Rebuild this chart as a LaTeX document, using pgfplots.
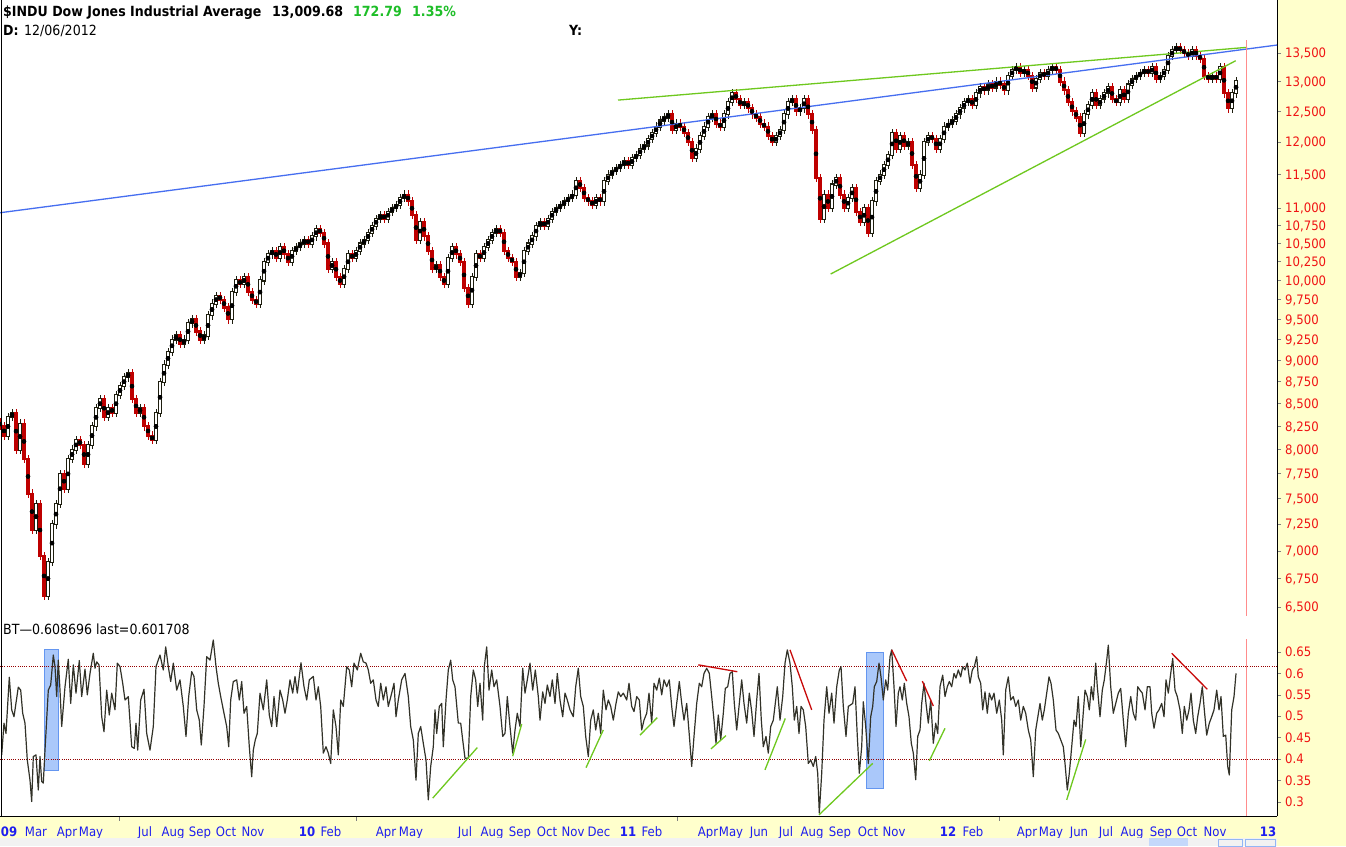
\documentclass[border=0pt]{standalone}
\usepackage{pgfplots}
\pgfplotsset{compat=1.18}
\usepackage{pgfplotstable}
\usepackage{fontspec}
\setmainfont{DejaVu Sans}[FakeStretch=0.9]
\definecolor{bgy}{RGB}{255,255,204}
\definecolor{cred}{RGB}{190,0,0}
\definecolor{cblk}{RGB}{30,30,15}
\definecolor{tred}{RGB}{240,20,20}
\definecolor{tgreen}{RGB}{30,190,40}
\definecolor{lblue}{RGB}{70,110,240}
\definecolor{lgreen}{RGB}{110,200,30}
\definecolor{oscc}{RGB}{50,50,40}
\definecolor{dred}{RGB}{150,0,0}
\definecolor{rfill}{RGB}{170,200,250}
\definecolor{rdraw}{RGB}{100,150,240}
\definecolor{pinkl}{RGB}{255,140,140}
\definecolor{xblue}{RGB}{30,30,240}
\definecolor{tline}{RGB}{200,10,10}
\newcommand{\tk}{\fontsize{13}{15}\selectfont}
\newcommand{\tsz}{\fontsize{14}{16}\selectfont}

\pgfplotstableread{
x o c
0 8300 8250
4 8250 8150
8 8150 8350
12 8350 8400
16 8400 8000
20 8000 8280
24 8280 7900
28 7900 7550
32 7550 7200
36 7200 7450
40 7450 6950
44 6950 6600
48 6600 6900
52 6900 7250
56 7250 7450
60 7450 7750
64 7750 7600
68 7600 7900
72 7900 8000
76 8000 8100
80 8100 8050
84 8050 7850
88 7850 8050
92 8050 8250
96 8250 8450
100 8450 8550
104 8550 8350
108 8350 8450
112 8450 8400
116 8400 8600
120 8600 8700
124 8700 8800
128 8800 8850
132 8850 8550
136 8550 8400
140 8400 8450
144 8450 8250
148 8250 8150
152 8150 8100
156 8100 8400
160 8400 8750
164 8750 8950
168 8950 9100
172 9100 9250
176 9250 9300
180 9300 9200
184 9200 9250
188 9250 9450
192 9450 9500
196 9500 9350
200 9350 9250
204 9250 9300
208 9300 9550
212 9550 9700
216 9700 9800
220 9800 9750
224 9750 9650
228 9650 9500
232 9500 9850
236 9850 10000
240 10000 9950
244 9950 10050
248 10050 9850
252 9850 9750
256 9750 9700
260 9700 10000
264 10000 10250
268 10250 10350
272 10350 10400
276 10400 10300
280 10300 10450
284 10450 10350
288 10350 10250
292 10250 10400
296 10400 10450
300 10450 10500
304 10500 10550
308 10550 10500
312 10500 10600
316 10600 10700
320 10700 10650
324 10650 10500
328 10500 10150
332 10150 10250
336 10250 10050
340 10050 9950
344 9950 10150
348 10150 10350
352 10350 10300
356 10300 10400
360 10400 10500
364 10500 10550
368 10550 10650
372 10650 10750
376 10750 10850
380 10850 10900
384 10900 10850
388 10850 10950
392 10950 11000
396 11000 11050
400 11050 11150
404 11150 11200
408 11200 11100
412 11100 10900
416 10900 10550
420 10550 10800
424 10800 10600
428 10600 10400
432 10400 10150
436 10150 10200
440 10200 10050
444 10050 9950
448 9950 10300
452 10300 10450
456 10450 10350
460 10350 10250
464 10250 9900
468 9900 9700
472 9700 10050
476 10050 10350
480 10350 10300
484 10300 10450
488 10450 10550
492 10550 10650
496 10650 10700
500 10700 10650
504 10650 10400
508 10400 10300
512 10300 10250
516 10250 10050
520 10050 10100
524 10100 10400
528 10400 10500
532 10500 10600
536 10600 10750
540 10750 10800
544 10800 10750
548 10750 10850
552 10850 10950
556 10950 11000
560 11000 11050
564 11050 11100
568 11100 11150
572 11150 11200
576 11200 11400
580 11400 11300
584 11300 11150
588 11150 11100
592 11100 11050
596 11050 11150
600 11150 11100
604 11100 11400
608 11400 11500
612 11500 11550
616 11550 11600
620 11600 11650
624 11650 11700
628 11700 11650
632 11650 11750
636 11750 11800
640 11800 11900
644 11900 11950
648 11950 12050
652 12050 12150
656 12150 12250
660 12250 12350
664 12350 12400
668 12400 12450
672 12450 12200
676 12200 12300
680 12300 12250
684 12250 12150
688 12150 12000
692 12000 11750
696 11750 11900
700 11900 12100
704 12100 12250
708 12250 12400
712 12400 12450
716 12450 12300
720 12300 12250
724 12250 12450
728 12450 12650
732 12650 12800
736 12800 12700
740 12700 12600
744 12600 12650
748 12650 12550
752 12550 12450
756 12450 12400
760 12400 12300
764 12300 12250
768 12250 12100
772 12100 12000
776 12000 12100
780 12100 12200
784 12200 12450
788 12450 12650
792 12650 12700
796 12700 12500
800 12500 12550
804 12550 12700
808 12700 12450
812 12450 12200
816 12200 11450
820 11450 10850
824 10850 11200
828 11200 11000
832 11000 11350
836 11350 11450
840 11450 11200
844 11200 11000
848 11000 11150
852 11150 11300
856 11300 10950
860 10950 10800
864 10800 11000
868 11000 10650
872 10650 11100
876 11100 11400
880 11400 11500
884 11500 11650
888 11650 11800
892 11800 12150
896 12150 11900
900 11900 12100
904 12100 11950
908 11950 12000
912 12000 11650
916 11650 11300
920 11300 11500
924 11500 12000
928 12000 12100
932 12100 12050
936 12050 11900
940 11900 12050
944 12050 12250
948 12250 12300
952 12300 12350
956 12350 12450
960 12450 12550
964 12550 12650
968 12650 12700
972 12700 12600
976 12600 12800
980 12800 12900
984 12900 12850
988 12850 12950
992 12950 12900
996 12900 13000
1000 13000 12950
1004 12950 12850
1008 12850 13100
1012 13100 13200
1016 13200 13250
1020 13250 13150
1024 13150 13200
1028 13200 13100
1032 13100 12900
1036 12900 13050
1040 13050 13150
1044 13150 13100
1048 13100 13200
1052 13200 13250
1056 13250 13200
1060 13200 13000
1064 13000 12850
1068 12850 12650
1072 12650 12500
1076 12500 12400
1080 12400 12150
1084 12150 12450
1088 12450 12600
1092 12600 12800
1096 12800 12600
1100 12600 12700
1104 12700 12800
1108 12800 12900
1112 12900 12700
1116 12700 12650
1120 12650 12850
1124 12850 12700
1128 12700 12950
1132 12950 13050
1136 13050 13100
1140 13100 13150
1144 13150 13200
1148 13200 13150
1152 13150 13250
1156 13250 13050
1160 13050 13100
1164 13100 13200
1168 13200 13450
1172 13450 13550
1176 13550 13600
1180 13600 13550
1184 13550 13500
1188 13500 13450
1192 13450 13550
1196 13550 13450
1200 13450 13400
1204 13400 13100
1208 13100 13050
1212 13050 13100
1216 13100 13050
1220 13050 13250
1224 13250 12800
1228 12800 12550
1232 12550 12800
1236 12800 13010
}\price

\pgfplotstableread{
x v
1.7 0.410
4 0.484
6 0.460
9.3 0.591
11.7 0.515
14 0.499
18.3 0.568
20.7 0.561
22.7 0.507
25 0.484
27.3 0.398
30 0.351
31.7 0.301
33.3 0.406
36 0.410
38.3 0.328
40 0.406
41.7 0.348
43.3 0.344
45 0.421
48.3 0.561
50.7 0.573
53.3 0.643
55 0.616
56.7 0.546
58.3 0.631
60 0.561
61.7 0.476
65 0.569
68.3 0.633
70.7 0.530
73.3 0.620
76 0.554
79.3 0.630
81.7 0.546
85 0.610
87.3 0.550
90 0.600
93.3 0.647
95 0.612
96.7 0.627
99 0.620
101.7 0.499
104 0.464
106.7 0.561
109.3 0.503
111.7 0.554
115 0.515
117.3 0.624
120 0.616
122.7 0.577
125 0.538
128.3 0.546
131.7 0.429
134.3 0.425
136 0.484
137.7 0.421
140.7 0.538
144 0.563
146.7 0.460
150 0.421
153.3 0.476
156 0.616
160 0.643
163.3 0.608
165.7 0.662
168.3 0.616
170.7 0.581
173.3 0.624
176.7 0.561
180 0.585
183.3 0.523
186 0.453
188.7 0.546
191.7 0.604
194 0.593
196.7 0.515
199.3 0.491
201.3 0.433
204 0.523
206.7 0.639
210 0.631
213.3 0.678
216 0.616
218.3 0.577
220.7 0.546
224 0.507
226.7 0.476
228.7 0.429
230.7 0.538
233.3 0.581
236.7 0.585
239.3 0.538
241.7 0.581
244 0.507
246.7 0.523
249.3 0.429
251.7 0.359
253.3 0.421
255.3 0.445
257.3 0.460
260 0.554
263.3 0.515
266.7 0.585
269.3 0.503
271.7 0.476
274 0.546
276.7 0.476
280 0.561
282.7 0.538
285 0.507
287.3 0.538
290 0.585
292.7 0.554
295 0.593
297.3 0.554
301 0.625
304 0.569
306.7 0.538
309.3 0.585
313.3 0.593
316 0.538
318.3 0.569
320.7 0.523
323.3 0.414
326 0.429
328.3 0.414
330.7 0.390
333.3 0.515
336 0.476
338.3 0.410
340.7 0.538
343.3 0.523
346.7 0.616
349.3 0.608
351.7 0.569
354 0.624
357.3 0.608
360.7 0.647
363.3 0.627
366 0.624
368.3 0.608
370.7 0.577
373.3 0.585
376 0.538
378.3 0.523
380.7 0.577
383.3 0.538
386 0.569
388.3 0.523
391.7 0.554
394 0.577
396 0.499
398.3 0.538
401.7 0.585
405 0.600
408.3 0.546
410.7 0.476
413.3 0.445
416 0.351
418.3 0.460
420.7 0.476
423.3 0.437
426 0.398
428.3 0.305
430.7 0.383
433.3 0.429
435 0.515
436.7 0.460
439.3 0.523
441.7 0.530
443.3 0.429
446 0.538
448.3 0.608
450.7 0.631
452.7 0.585
455 0.569
458.3 0.484
460.7 0.484
462.7 0.445
465 0.402
468.3 0.402
470.7 0.546
473.3 0.608
475.7 0.585
477.7 0.523
480 0.577
482.7 0.491
484.3 0.616
486.7 0.662
489 0.561
491.7 0.608
494 0.569
496.7 0.585
500 0.523
502.7 0.453
505 0.460
507.3 0.546
510 0.476
512.7 0.414
515 0.468
517.3 0.507
520 0.476
522.7 0.612
525 0.554
527.3 0.585
530 0.624
532.7 0.561
535.3 0.608
538.3 0.546
540 0.491
542.7 0.557
545 0.530
547.3 0.573
550 0.546
552.3 0.585
555 0.530
557.3 0.600
560 0.538
562.7 0.499
565 0.554
567.3 0.538
570 0.515
573.3 0.499
575.7 0.569
578.3 0.612
580.7 0.546
583.3 0.523
585.7 0.453
588.3 0.406
590.7 0.491
593.3 0.515
595.7 0.468
598.3 0.507
600.7 0.460
603.3 0.561
606 0.515
608.3 0.538
610.7 0.523
613.3 0.491
616 0.530
618.3 0.557
620.7 0.546
623.3 0.554
626.7 0.538
629 0.577
631.7 0.523
634 0.511
636.7 0.546
639.3 0.538
641.7 0.468
644 0.491
646.7 0.507
649 0.554
651.7 0.484
654 0.577
656.7 0.561
659.3 0.589
661.7 0.550
664 0.585
666.7 0.569
669.3 0.585
671.7 0.523
674 0.476
676.7 0.530
679.3 0.581
681.7 0.530
684 0.491
686.7 0.530
689.3 0.456
691.7 0.383
694 0.453
696.7 0.530
699.3 0.577
701.7 0.569
704 0.600
706.7 0.612
709.3 0.600
711.7 0.546
714 0.491
716 0.437
718.3 0.503
720.7 0.445
723.3 0.507
725.3 0.565
727.7 0.569
730 0.600
732.3 0.604
734.3 0.530
736.7 0.468
739.3 0.530
741.7 0.585
744 0.530
746.7 0.484
749.3 0.554
751.7 0.511
754 0.453
756.7 0.538
759 0.600
761.3 0.491
763.3 0.429
766 0.453
768.3 0.414
770.7 0.476
773.3 0.491
775.7 0.538
777.3 0.569
780 0.491
782.7 0.546
785 0.624
787.3 0.655
790 0.624
792.3 0.569
794.3 0.491
796.7 0.523
799 0.460
801 0.523
803.3 0.515
805.7 0.476
808.3 0.390
810.7 0.398
813.3 0.383
815.7 0.406
817.7 0.367
819.3 0.274
821.7 0.367
824 0.491
826.7 0.569
829 0.507
831.7 0.554
834 0.484
836.7 0.569
839.3 0.608
841 0.616
843.3 0.523
846 0.453
848.3 0.523
852.7 0.530
855 0.569
857.3 0.453
859.3 0.367
861.7 0.429
863.3 0.534
865.7 0.476
868.3 0.390
870.7 0.499
872.7 0.523
874.3 0.569
876.7 0.581
879 0.624
881 0.592
883.3 0.538
885.7 0.585
887.7 0.561
890 0.639
891.7 0.655
894 0.569
896 0.476
898.3 0.554
900 0.569
902.3 0.538
904.3 0.577
906.7 0.530
909 0.499
911.3 0.437
913.3 0.414
915.7 0.352
917.7 0.453
920 0.468
921.7 0.530
924 0.577
926 0.530
928.3 0.484
930.7 0.538
933.3 0.437
935.7 0.484
937.7 0.460
940 0.569
942.7 0.596
945 0.546
947.3 0.569
949.3 0.581
951.7 0.569
954 0.600
956 0.589
958.3 0.608
960.7 0.592
962.7 0.616
965 0.608
967.3 0.624
970 0.577
972.3 0.608
974.3 0.616
976.7 0.639
978.3 0.592
980.7 0.577
982.7 0.515
985 0.557
987.3 0.507
989.3 0.554
991.7 0.538
994 0.554
996.7 0.507
999.3 0.538
1001.7 0.491
1003.3 0.410
1005.7 0.561
1008.3 0.592
1010.7 0.538
1013.3 0.546
1015.7 0.523
1018.3 0.538
1020.7 0.491
1023.3 0.523
1025.7 0.507
1028.3 0.468
1030.7 0.445
1033.3 0.359
1035.7 0.468
1037.3 0.491
1040 0.530
1042.3 0.491
1044.3 0.515
1046.7 0.554
1049 0.592
1051 0.577
1053.3 0.538
1056 0.468
1058.3 0.460
1060.7 0.445
1063.3 0.429
1065 0.390
1067.3 0.328
1069.3 0.367
1071.7 0.429
1074 0.491
1076 0.476
1078.3 0.546
1080.7 0.429
1082.7 0.491
1085 0.561
1087.3 0.546
1089.3 0.515
1091.3 0.569
1093.3 0.538
1095.7 0.624
1097.3 0.569
1100 0.499
1102.3 0.561
1104.3 0.585
1106.7 0.631
1108.3 0.666
1110.7 0.569
1113.3 0.507
1115.7 0.530
1118.3 0.554
1120.7 0.565
1123.3 0.491
1125.7 0.429
1128.3 0.507
1130.7 0.546
1133.3 0.507
1135.7 0.491
1137.7 0.569
1140 0.561
1142.3 0.554
1145 0.515
1147.3 0.569
1150 0.569
1151.7 0.507
1154 0.472
1156.7 0.507
1159 0.515
1161.7 0.530
1164 0.499
1166 0.585
1168.3 0.554
1170.7 0.600
1172.7 0.635
1175 0.561
1177.3 0.546
1180 0.515
1182.3 0.460
1184.3 0.523
1186.7 0.491
1189 0.515
1191 0.554
1193.3 0.491
1195.7 0.460
1197.7 0.499
1200 0.530
1202.3 0.569
1204.3 0.515
1206.7 0.456
1209.3 0.484
1211.7 0.499
1214 0.515
1216.7 0.561
1219 0.515
1221 0.546
1223.3 0.453
1225.7 0.456
1227.7 0.383
1229.3 0.363
1231.7 0.515
1234 0.546
1236 0.600
}\osc

\begin{document}
\begin{tikzpicture}
\fill[bgy] (0pt,0pt) rectangle (1346pt,-846pt);
% ---------------- main price panel ----------------
\begin{axis}[
  at={(0pt,0pt)}, anchor=north west, scale only axis,
  width=1277pt, height=621pt,
  xmin=0, xmax=1277, ymin=8.761105, ymax=9.580365,
  axis background/.style={fill=white},
  axis x line=none, axis y line*=right,
  axis line style={black, line width=1pt},
  tick style={draw=gray, line width=0.6pt}, major tick length=4pt, tick align=outside,
  ytick={8.779557,8.817298,8.853665,8.888756,8.922658,8.955448,8.987197,9.017968,9.047821,9.076809,9.104980,9.132379,9.159047,9.185022,9.210340,9.235033,9.259130,9.282661,9.305651,9.350102,9.392662,9.433484,9.472705,9.510445},
  yticklabels={{6,500},{6,750},{7,000},{7,250},{7,500},{7,750},{8,000},{8,250},{8,500},{8,750},{9,000},{9,250},{9,500},{9,750},{10,000},{10,250},{10,500},{10,750},{11,000},{11,500},{12,000},{12,500},{13,000},{13,500}},
  yticklabel style={font=\tk, text=tred, anchor=base west, inner sep=0pt, xshift=4pt, yshift=-4.7pt},
]
% wicks
\addplot[only marks, mark=none, error bars/.cd, y dir=both, y explicit, error mark=none,
  error bar style={draw=cblk, line width=1pt}]
  table[x=x, y expr={\thisrow{c}<\thisrow{o} ? nan : 0.5*(ln(\thisrow{o})+ln(\thisrow{c}))},
        y error expr={0.5*abs(ln(\thisrow{c})-ln(\thisrow{o}))+0.0055}] {\price};
\addplot[only marks, mark=none, error bars/.cd, y dir=both, y explicit, error mark=none,
  error bar style={draw=cred, line width=1pt}]
  table[x=x, y expr={\thisrow{c}<\thisrow{o} ? 0.5*(ln(\thisrow{o})+ln(\thisrow{c})) : nan},
        y error expr={0.5*abs(ln(\thisrow{c})-ln(\thisrow{o}))+0.0055}] {\price};
% up candles (hollow black)
\addplot[only marks, mark=none, error bars/.cd, y dir=both, y explicit, error mark=none,
  error bar style={draw=cblk, line width=3.6pt}]
  table[x=x, y expr={\thisrow{c}<\thisrow{o} ? nan : 0.5*(ln(\thisrow{o})+ln(\thisrow{c}))},
        y error expr={0.5*abs(ln(\thisrow{c})-ln(\thisrow{o}))+0.0014}] {\price};
\addplot[only marks, mark=none, error bars/.cd, y dir=both, y explicit, error mark=none,
  error bar style={draw=white, line width=1.3pt}]
  table[x=x, y expr={\thisrow{c}<\thisrow{o} ? nan : 0.5*(ln(\thisrow{o})+ln(\thisrow{c}))},
        y error expr={max(0.5*abs(ln(\thisrow{c})-ln(\thisrow{o})),0)}] {\price};
% down candles (filled red)
\addplot[only marks, mark=none, error bars/.cd, y dir=both, y explicit, error mark=none,
  error bar style={draw=cred, line width=3.6pt}]
  table[x=x, y expr={\thisrow{c}<\thisrow{o} ? 0.5*(ln(\thisrow{o})+ln(\thisrow{c})) : nan},
        y error expr={0.5*abs(ln(\thisrow{c})-ln(\thisrow{o}))+0.0014}] {\price};
% trend lines
\addplot[lblue, line width=1.3pt] table[row sep=\\, x=x, y expr=ln(\thisrow{p})] {x p\\ 0 10935\\ 1277 13643\\};
\addplot[lgreen, line width=1.3pt] table[row sep=\\, x=x, y expr=ln(\thisrow{p})] {x p\\ 618 12687\\ 1247 13602\\};
\addplot[lgreen, line width=1.3pt] table[row sep=\\, x=x, y expr=ln(\thisrow{p})] {x p\\ 830.7 10086\\ 1235.7 13364\\};
\end{axis}
% ---------------- lower indicator panel ----------------
\begin{axis}[
  at={(0pt,-621pt)}, anchor=north west, scale only axis,
  width=1277pt, height=195pt,
  xmin=0, xmax=1277, ymin=0.2673, ymax=0.7223,
  axis background/.style={fill=white},
  axis x line*=bottom, axis y line*=right,
  axis line style={black, line width=1pt},
  tick style={draw=gray, line width=0.6pt}, major tick length=4pt, tick align=outside,
  every major x tick/.style={draw=none},
  ytick={0.3,0.35,0.4,0.45,0.5,0.55,0.6,0.65},
  yticklabels={0.3,0.35,0.4,0.45,0.5,0.55,0.6,0.65},
  yticklabel style={font=\tk, text=tred, anchor=base west, inner sep=0pt, xshift=4pt, yshift=-4.7pt},
  xtick={9,36,67,91,145,173,200,226,253,307,331,386,411,465,492,520,547,573,599,628,652,708,731,759,786,812,840,868,894,948,973,1027,1051,1079,1106,1132,1161,1187,1215,1268},
  xticklabels={\textbf{09},Mar,Apr,May,Jul,Aug,Sep,Oct,Nov,\textbf{10},Feb,Apr,May,Jul,Aug,Sep,Oct,Nov,Dec,\textbf{11},Feb,Apr,May,Jun,Jul,Aug,Sep,Oct,Nov,\textbf{12},Feb,Apr,May,Jun,Jul,Aug,Sep,Oct,Nov,\textbf{13}},
  xticklabel style={font=\tk, text=xblue, anchor=base, inner sep=0pt, yshift=-16pt},
]
\addplot[fill=rfill, draw=rdraw, line width=0.8pt] coordinates {(44.3,0.373) (58.7,0.373) (58.7,0.655) (44.3,0.655)} -- cycle;
\addplot[fill=rfill, draw=rdraw, line width=0.8pt] coordinates {(866,0.332) (883.7,0.332) (883.7,0.649) (866,0.649)} -- cycle;
\addplot[dred, line width=0.9pt, dash pattern=on 1pt off 1.2pt] coordinates {(0,0.616) (1277,0.616)};
\addplot[dred, line width=0.9pt, dash pattern=on 1pt off 1.2pt] coordinates {(0,0.400) (1277,0.400)};
\addplot[oscc, line width=1.2pt, line join=round] table[x=x, y=v] {\osc};
% green support lines
\addplot[lgreen, line width=1.3pt] coordinates {(432.7,0.309) (477.3,0.427)};
\addplot[lgreen, line width=1.3pt] coordinates {(512.7,0.407) (521.7,0.482)};
\addplot[lgreen, line width=1.3pt] coordinates {(586,0.380) (603.3,0.468)};
\addplot[lgreen, line width=1.3pt] coordinates {(640,0.456) (657.3,0.497)};
\addplot[lgreen, line width=1.3pt] coordinates {(711,0.424) (726,0.455)};
\addplot[lgreen, line width=1.3pt] coordinates {(765,0.375) (785.3,0.495)};
\addplot[lgreen, line width=1.3pt] coordinates {(819,0.270) (872.7,0.390)};
\addplot[lgreen, line width=1.3pt] coordinates {(929.3,0.396) (945,0.472)};
\addplot[lgreen, line width=1.3pt] coordinates {(1066.7,0.305) (1085.7,0.446)};
% red resistance lines
\addplot[tline, line width=1.3pt] coordinates {(698.3,0.620) (737.3,0.604)};
\addplot[tline, line width=1.3pt] coordinates {(790,0.655) (811.7,0.515)};
\addplot[tline, line width=1.3pt] coordinates {(891.7,0.655) (906.7,0.582)};
\addplot[tline, line width=1.3pt] coordinates {(922.3,0.582) (933.3,0.524)};
\addplot[tline, line width=1.3pt] coordinates {(1171.7,0.647) (1207.3,0.563)};
\end{axis}
% frame, marker lines, scrollbar
\draw[black, line width=1pt] (1pt,0pt) -- (1pt,-817pt);
\draw[pinkl, line width=1pt] (1246pt,-40pt) -- (1246pt,-616pt);
\draw[pinkl, line width=1pt] (1246pt,-639pt) -- (1246pt,-816pt);
\foreach \t in {119,356,677,999} \draw[gray, line width=0.6pt] (\t pt,-817pt) -- (\t pt,-821pt);
\fill[black!5] (0pt,-838pt) rectangle (1277pt,-846pt);
\fill[rfill!70] (1149pt,-838pt) rectangle (1188pt,-846pt);
\draw[rdraw!70, line width=0.6pt] (1218pt,-839pt) rectangle (1242pt,-846pt);
\draw[rdraw!70, line width=0.6pt] (1245pt,-839pt) rectangle (1275pt,-846pt);
% header texts
\node[anchor=base west, inner sep=0pt] at (3pt,-16pt) {\tsz\bfseries \$INDU Dow Jones Industrial Average};
\node[anchor=base west, inner sep=0pt] at (272pt,-16pt) {\tsz\bfseries 13,009.68};
\node[anchor=base west, inner sep=0pt, text=tgreen] at (353pt,-16pt) {\tsz\bfseries 172.79};
\node[anchor=base west, inner sep=0pt, text=tgreen] at (412pt,-16pt) {\tsz\bfseries 1.35\%};
\node[anchor=base west, inner sep=0pt] at (3pt,-35pt) {\tsz\bfseries D:};
\node[anchor=base west, inner sep=0pt] at (24pt,-35pt) {\tsz 12/06/2012};
\node[anchor=base west, inner sep=0pt] at (569pt,-35pt) {\tsz\bfseries Y:};
\node[anchor=base west, inner sep=0pt] at (3pt,-634pt) {\tsz BT—0.608696 last=0.601708};
\pgfresetboundingbox
\useasboundingbox (0pt,0pt) rectangle (1346pt,-846pt);
\end{tikzpicture}
\end{document}
